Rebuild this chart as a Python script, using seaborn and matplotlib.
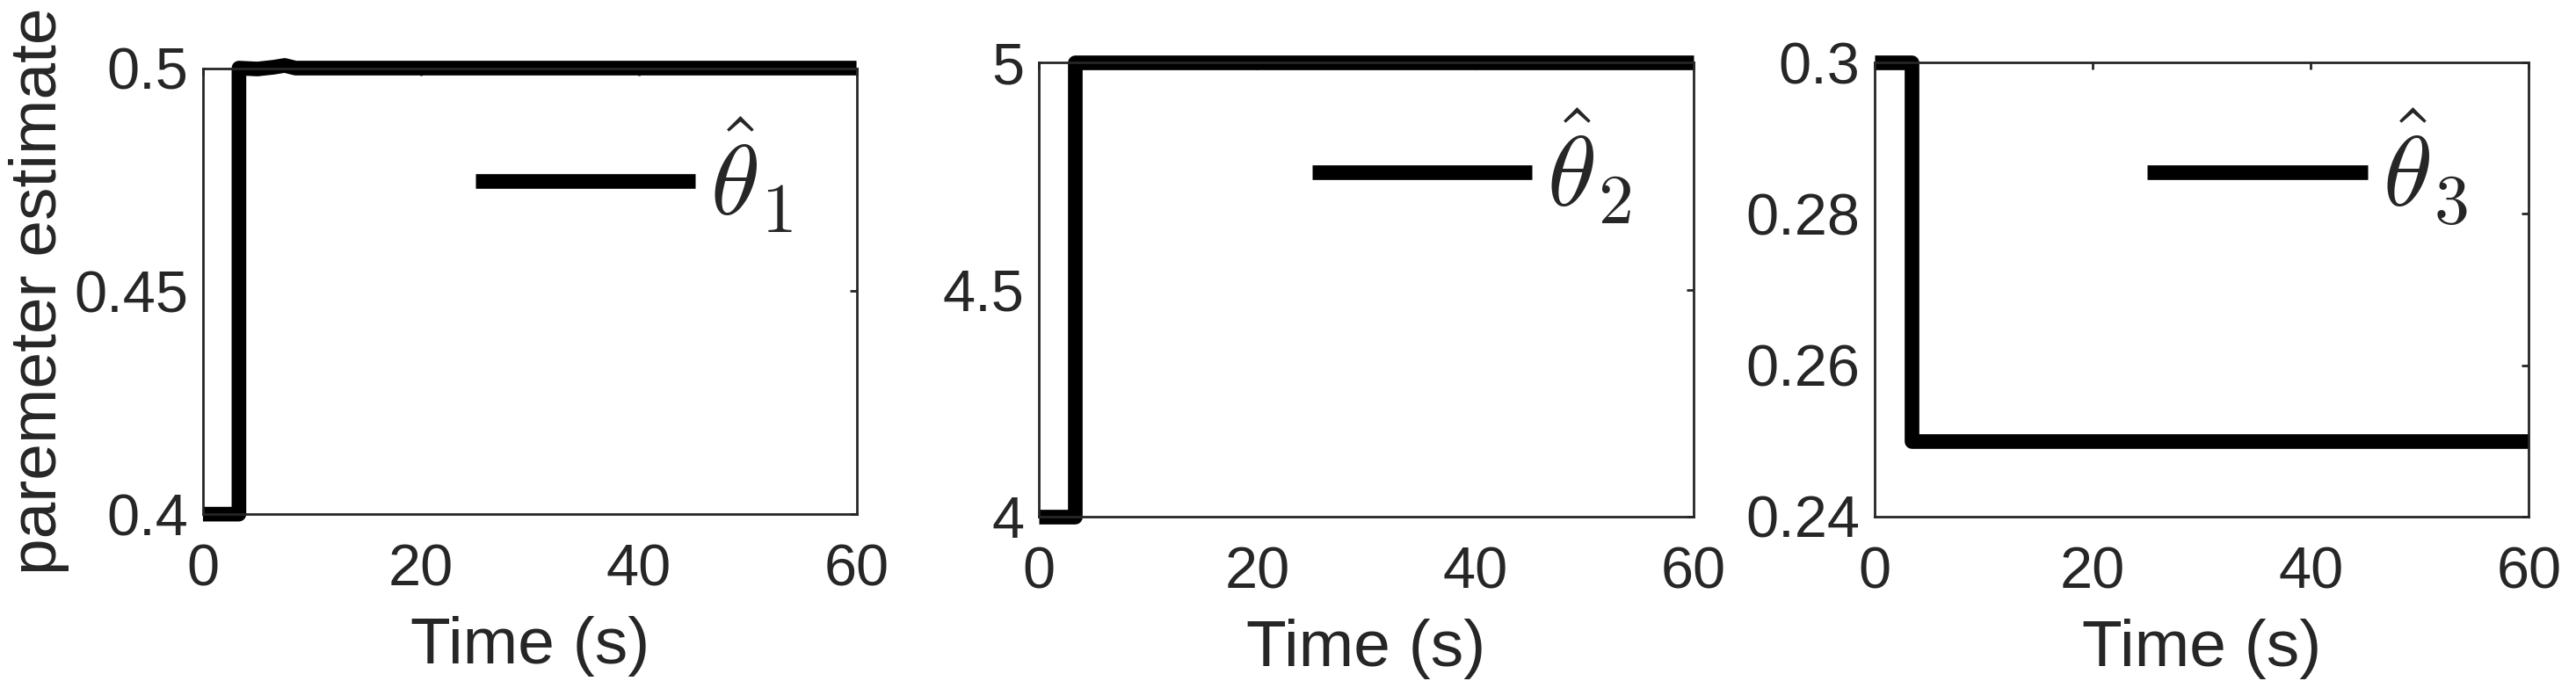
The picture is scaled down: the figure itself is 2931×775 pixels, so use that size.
import numpy as np
import pandas as pd
import matplotlib
matplotlib.use("Agg")
import matplotlib.pyplot as plt
import seaborn as sns

# ---- data ----
t1 = [0, 3.3, 3.3, 5.0, 6.5, 7.5, 8.5, 60]
theta1 = [0.4, 0.4, 0.5, 0.4998, 0.5002, 0.5006, 0.5, 0.5]
t2 = [0, 3.3, 3.3, 60]
theta2 = [4.0, 4.0, 5.0, 5.0]
t3 = [0, 3.4, 3.4, 60]
theta3 = [0.3, 0.3, 0.25, 0.25]

labels = [r"$\hat{\theta}_1$", r"$\hat{\theta}_2$", r"$\hat{\theta}_3$"]
ylims = [(0.4, 0.5), (4, 5), (0.24, 0.3)]
yticks = [[0.4, 0.45, 0.5], [4, 4.5, 5], [0.24, 0.26, 0.28, 0.3]]
yticklabels = [["0.4", "0.45", "0.5"], ["4", "4.5", "5"], ["0.24", "0.26", "0.28", "0.3"]]
xticks = [0, 20, 40, 60]
xlabel = "Time (s)"
ylabel = "paremeter estimate"

sns.set_theme(style="white")
plt.rcParams["font.family"] = ["Liberation Sans", "DejaVu Sans"]
plt.rcParams["mathtext.fontset"] = "cm"

fig = plt.figure(figsize=(29.31, 7.75), dpi=100)
positions = [
    [0.0788, 0.245, 0.2537, 0.655],
    [0.4033, 0.2413, 0.2542, 0.667],
    [0.7277, 0.2413, 0.2540, 0.667],
]
legend_y = [0.747, 0.7586, 0.7586]
legend_x = 25 / 60

axcol = "#262626"
axes = []
legends = []
for i, (tt, vv) in enumerate([(t1, theta1), (t2, theta2), (t3, theta3)]):
    ax = fig.add_axes(positions[i])
    df = pd.DataFrame({"t": tt, "v": vv})
    sns.lineplot(data=df, x="t", y="v", ax=ax, color="black", linewidth=12,
                 sort=False, estimator=None, label=labels[i],
                 solid_capstyle="butt", solid_joinstyle="round", clip_on=False)
    ax.set_xlim(0, 60)
    ax.set_ylim(*ylims[i])
    ax.set_xticks(xticks)
    ax.set_xticklabels([str(x) for x in xticks])
    ax.set_yticks(yticks[i])
    ax.set_yticklabels(yticklabels[i])
    ax.tick_params(direction="in", top=True, right=True, length=6, width=2,
                   labelsize=48, colors=axcol)
    ax.tick_params(axis="x", pad=24)
    ax.tick_params(axis="y", pad=12)
    for s in ax.spines.values():
        s.set_color(axcol)
        s.set_linewidth(2)
    ax.set_xlabel(xlabel, fontsize=54, color=axcol, labelpad=15)
    if i == 0:
        ax.set_ylabel(ylabel, fontsize=54, color=axcol, labelpad=4)
    else:
        ax.set_ylabel("")
    leg = ax.legend(loc="center left", bbox_to_anchor=(legend_x, legend_y[i]),
                    frameon=False, fontsize=82, handlelength=2.2, handletextpad=0.15,
                    borderpad=0, borderaxespad=0)
    axes.append(ax)
    legends.append(leg)

# align each legend handle line with its intended position
fig.canvas.draw()
renderer = fig.canvas.get_renderer()
for i, (ax, leg) in enumerate(zip(axes, legends)):
    h = leg.legend_handles[0]
    ext = h.get_window_extent(renderer)
    tx, ty = ax.transAxes.transform((legend_x, legend_y[i]))
    bb = ax.get_window_extent(renderer)
    cx = ext.x0 + (h.get_linewidth() * fig.dpi / 72.0) / 2.0 if False else ext.x0
    dx = (tx - ext.x0) / bb.width
    dy = (ty - (ext.y0 + ext.y1) / 2.0) / bb.height
    leg.set_bbox_to_anchor((legend_x + dx, legend_y[i] + dy), transform=ax.transAxes)

fig.savefig("out.png", dpi=100)
